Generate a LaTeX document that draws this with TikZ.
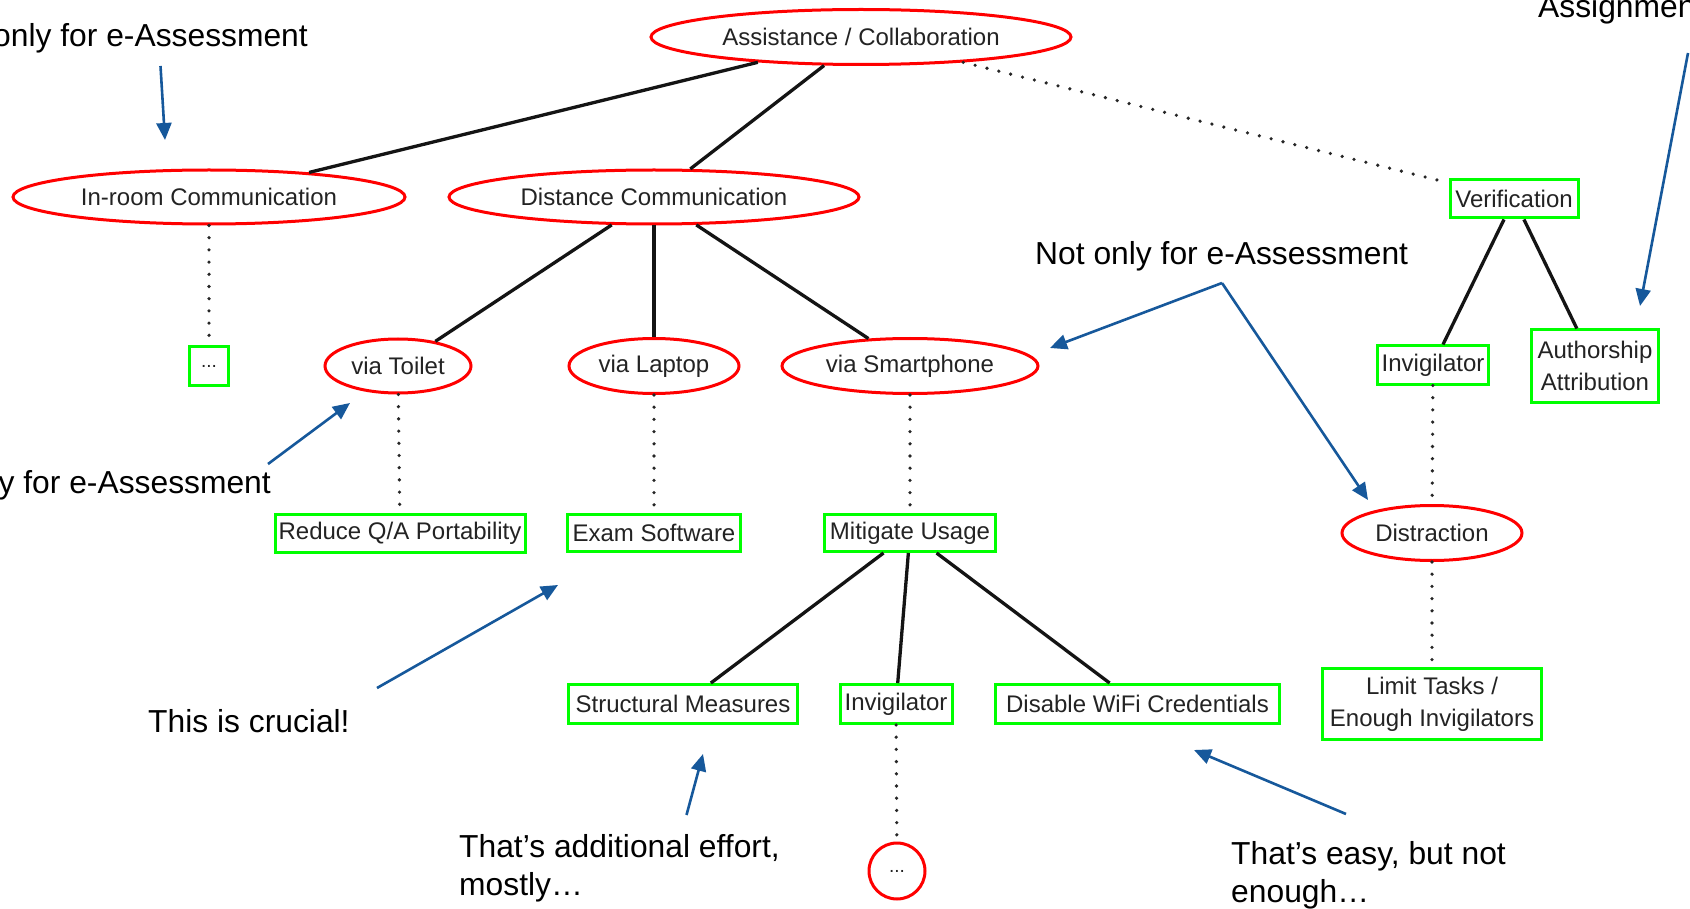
\documentclass[tikz,border=0pt]{standalone}
\usepackage{fontspec}
\setmainfont{Liberation Sans}
\usetikzlibrary{shapes.geometric,arrows.meta}
\definecolor{noteblue}{RGB}{22,88,155}
\definecolor{nodetext}{RGB}{35,35,35}
\tikzset{
  lbl/.style={font=\fontsize{24}{32}\selectfont, text=nodetext, align=center},
  oval/.style={ellipse, draw=red, line width=3pt, lbl, inner sep=0pt},
  leaf/.style={rectangle, draw=green, line width=3pt, lbl, inner sep=0pt},
  tie/.style={line width=3.3pt, black!92},
  weak/.style={line width=3.6pt, dash pattern=on 0pt off 12.2pt, line cap=round, black!85},
  note/.style={font=\fontsize{31.8}{38.5}\selectfont, inner sep=0pt, align=left, text=black},
  pointer/.style={draw=noteblue, line width=2.6pt, -{Triangle[length=17pt,width=15pt]}},
}
\begin{document}
\begin{tikzpicture}[x=1pt,y=-1pt]
\fill[white] (0,0) rectangle (1690,909);
\useasboundingbox (0,0) rectangle (1690,909);

% tree nodes
\node[oval, minimum width=420, minimum height=55] (assist) at (861,37) {Assistance / Collaboration};
\node[oval, minimum width=392, minimum height=54] (inroom) at (209,197) {In-room Communication};
\node[oval, minimum width=410, minimum height=54] (dist) at (654,197) {Distance Communication};
\node[leaf, minimum width=128, minimum height=38] (verif) at (1514,199) {Verification};

\node[leaf, minimum width=39, minimum height=39, font=\fontsize{19}{24}\selectfont] (more1) at (209,366) {...};
\node[oval, minimum width=146, minimum height=54] (toilet) at (398,366) {via Toilet};
\node[oval, minimum width=170, minimum height=55] (laptop) at (654,366) {via Laptop};
\node[oval, minimum width=256, minimum height=55] (smart) at (910,366) {via Smartphone};
\node[leaf, minimum width=111, minimum height=38] (inv1) at (1433,365) {Invigilator};
\node[leaf, minimum width=127, minimum height=72] (auth) at (1595,366) {Authorship\\Attribution};

\node[leaf, minimum width=250, minimum height=38] (reduce) at (400,533) {Reduce Q/A Portability};
\node[leaf, minimum width=173, minimum height=37] (exam) at (654,533) {Exam Software};
\node[leaf, minimum width=171, minimum height=37] (mitig) at (910,533) {Mitigate Usage};
\node[oval, minimum width=180, minimum height=55] (distr) at (1432,533) {Distraction};

\node[leaf, minimum width=229, minimum height=39] (struct) at (683,704) {Structural Measures};
\node[leaf, minimum width=112, minimum height=39] (inv2) at (896,704) {Invigilator};
\node[leaf, minimum width=284, minimum height=39] (wifi) at (1137.5,704) {Disable WiFi Credentials};
\node[leaf, minimum width=219, minimum height=71] (limit) at (1432,704) {Limit Tasks /\\Enough Invigilators};
\node[circle, draw=red, line width=3pt, minimum size=56, inner sep=0pt, font=\fontsize{19}{24}\selectfont, text=nodetext] (more2) at (897,871) {...};

% solid links
\draw[tie] (assist) -- (inroom);
\draw[tie] (assist) -- (dist);
\draw[tie] (dist) -- (toilet);
\draw[tie] (dist) -- (laptop);
\draw[tie] (dist) -- (smart);
\draw[tie] (verif) -- (inv1);
\draw[tie] (verif) -- (auth);
\draw[tie] (mitig) -- (struct);
\draw[tie] (mitig) -- (inv2);
\draw[tie] (mitig) -- (wifi);

% dotted links
\draw[weak] (assist) -- (verif);
\draw[weak] (inroom) -- (more1);
\draw[weak] (toilet) -- (reduce);
\draw[weak] (laptop) -- (exam);
\draw[weak] (smart) -- (mitig);
\draw[weak] (inv1) -- (distr);
\draw[weak] (distr) -- (limit);
\draw[weak] (inv2) -- (more2);

% comments
\node[note, anchor=base east] (c1) at (308,47) {Not only for e-Assessment};
\node[note, anchor=base east] (c2) at (271,493) {Not only for e-Assessment};
\node[note, anchor=base west] (c3) at (1035,265) {Not only for e-Assessment};
\node[note, anchor=base west] (c4) at (1538,18) {Assignments};
\node[note, anchor=base west] (c5) at (148,732) {This is crucial!};
\node[note, anchor=north west] (c6) at (459,834) {That’s additional effort,\\mostly…};
\node[note, anchor=north west] (c7) at (1231,841) {That’s easy, but not\\enough…};

% comment pointers
\coordinate (p1a) at (160.5,66);  \coordinate (p1b) at (165,140);
\coordinate (p2a) at (268,464);   \coordinate (p2b) at (350,403);
\coordinate (p3a) at (1222,283);  \coordinate (p3b) at (1050,348);
\coordinate (p3c) at (1368,500);
\coordinate (p4a) at (1688,53);   \coordinate (p4b) at (1640,306);
\coordinate (p5a) at (377,688);   \coordinate (p5b) at (558,585);
\coordinate (p6a) at (686.5,815); \coordinate (p6b) at (703,754);
\coordinate (p7a) at (1346,814);  \coordinate (p7b) at (1194,750);

\draw[pointer] (p1a) -- (p1b);
\draw[pointer] (p2a) -- (p2b);
\draw[pointer] (p3a) -- (p3b);
\draw[pointer] (p3a) -- (p3c);
\draw[pointer] (p4a) -- (p4b);
\draw[pointer] (p5a) -- (p5b);
\draw[pointer] (p6a) -- (p6b);
\draw[pointer] (p7a) -- (p7b);
\end{tikzpicture}
\end{document}
